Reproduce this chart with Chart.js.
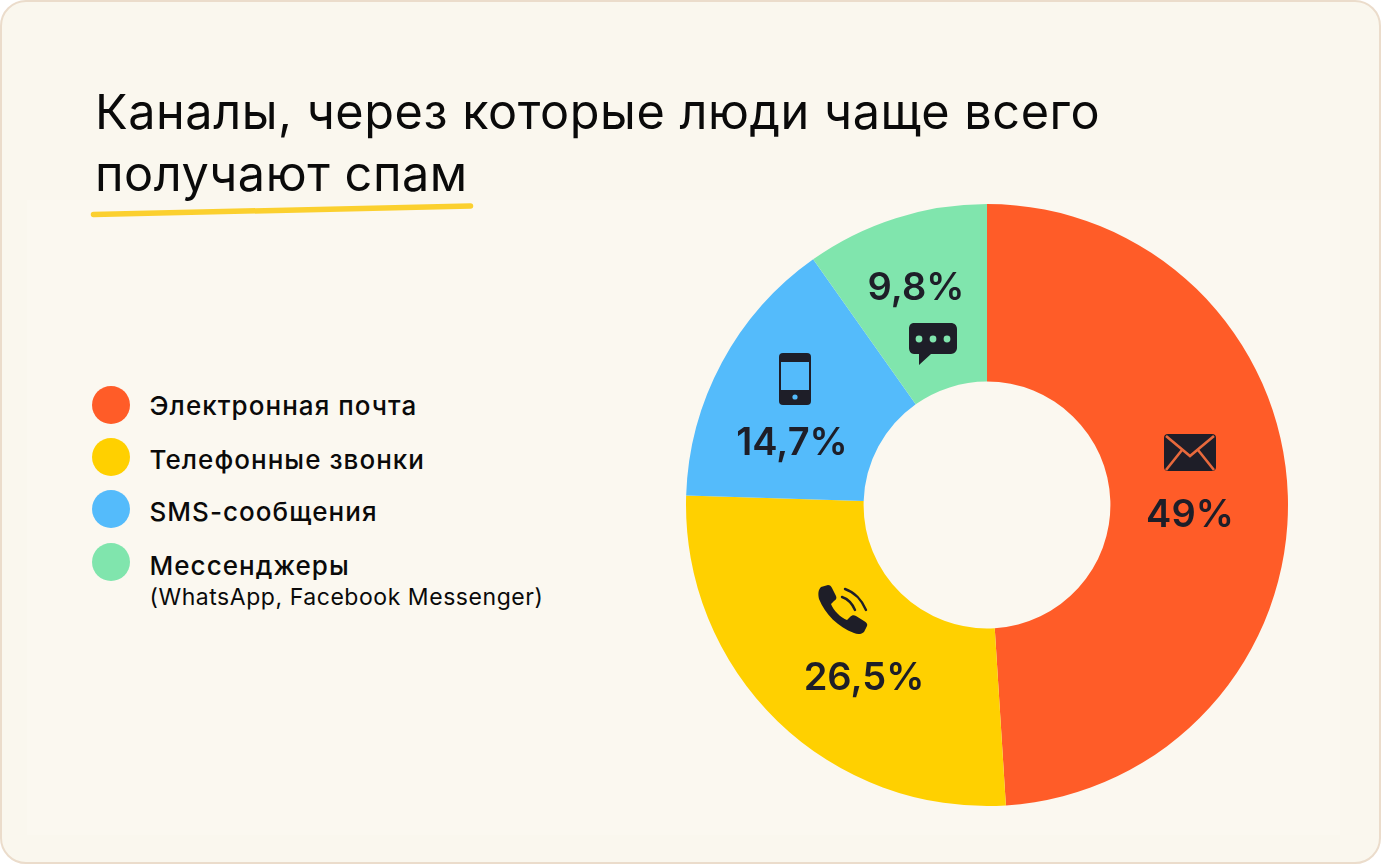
<!DOCTYPE html>
<html lang="ru">
<head>
    <meta charset="UTF-8">
    <title>Каналы спама</title>
    <script src="https://cdn.jsdelivr.net/npm/chart.js"></script>
    <style>
        html, body { margin: 0; padding: 0; background: #fff; }
        #page {
            position: relative; width: 1381px; height: 864px; overflow: hidden;
            font-family: Inter, sans-serif; color: #0a0a0a;
        }
        #card {
            position: absolute; left: 0; top: 0; width: 1377px; height: 860px;
            background: #faf7ee; border: 2px solid #ebdccb; border-radius: 26px;
        }
        #panel { position: absolute; left: 27px; top: 200px; width: 1313px; height: 635px; background: #fbf8f0; }
        #title {
            position: absolute; left: 95px; top: 81px; font-size: 48.6px; line-height: 62px;
            letter-spacing: 0.55px; font-weight: 400; white-space: nowrap;
        }
        #underline, .icon { position: absolute; }
        #chartBox { position: absolute; left: 680px; top: 198px; width: 614px; height: 614px; }
        .dot { position: absolute; left: 92px; width: 38px; height: 38px; border-radius: 50%; }
        .legendText {
            position: absolute; left: 149.5px; font-size: 26px; line-height: 30px; font-weight: 500;
            letter-spacing: 1.05px; white-space: nowrap; transform: translateY(-50%);
        }
        .legendNote { font-size: 23px; font-weight: 400; letter-spacing: 0.55px; }
        .value {
            position: absolute; font-size: 38px; line-height: 44px; font-weight: 600; color: #1e1e28;
            transform: translate(-50%, -50%); white-space: nowrap;
        }
    </style>
</head>
<body>
<div id="page">
    <div id="card"></div>
    <div id="panel"></div>
    <div id="title"></div>
    <svg id="underline" style="left:0;top:0" width="600" height="240">
        <line x1="93.5" y1="214.5" x2="470.5" y2="206" stroke="#fbd02f" stroke-width="5.5" stroke-linecap="round"/>
    </svg>
    <div id="chartBox"><canvas id="spamChart"></canvas></div>

    <!-- mail -->
    <svg class="icon" style="left:1163px;top:433px" width="54" height="39" viewBox="0 0 54 39">
        <rect x="1" y="1" width="52" height="37" rx="4" fill="#1e1e28"/>
        <path d="M3 3 L27 23 L51 3 M3 37 L19 17 M51 37 L35 17" fill="none" stroke="#e8693c" stroke-width="2.6"/>
    </svg>
    <!-- handset -->
    <svg class="icon" style="left:816px;top:583px" width="54" height="54" viewBox="0 0 54 54">
        <path d="M5 4 L12 2 C14 2 15 3 16 5 L20 13 C21 15 20 17 18 18 L15 21 C17 27 25 35 31 37 L34 34 C36 32 38 32 40 33 L48 38 C50 39 52 41 51 43 L48 49 C46 51 42 52 38 50 C22 44 9 31 3 16 C2 11 2 7 5 4 Z" fill="#1e1e28"/>
        <path d="M26 14 C32 16 36 20 39 27 M29 6 C38 9 46 17 50 27" fill="none" stroke="#1e1e28" stroke-width="2.4" stroke-linecap="round"/>
    </svg>
    <!-- smartphone -->
    <svg class="icon" style="left:778px;top:352px" width="34" height="54" viewBox="0 0 34 54">
        <rect x="1" y="1" width="32" height="52" rx="4" fill="#1e1e28"/>
        <rect x="3" y="10" width="28" height="28" fill="#54bbfb"/>
        <circle cx="17" cy="45" r="2.6" fill="#54bbfb"/>
    </svg>
    <!-- chat bubble -->
    <svg class="icon" style="left:908px;top:322px" width="50" height="46" viewBox="0 0 50 46">
        <path d="M6 1 H43 C46 1 49 3 49 7 V26 C49 29 46 32 43 32 H23 L11 43 V32 H6 C3 32 1 29 1 26 V7 C1 3 3 1 6 1 Z" fill="#1e1e28"/>
        <circle cx="11" cy="17" r="3.4" fill="#80e5ad"/>
        <circle cx="25" cy="17" r="3.4" fill="#80e5ad"/>
        <circle cx="39" cy="17" r="3.4" fill="#80e5ad"/>
    </svg>
</div>
<script>
    const titleLines = ['Каналы, через которые люди чаще всего', 'получают спам'];
    const categories = ['Электронная почта', 'Телефонные звонки', 'SMS-сообщения', 'Мессенджеры'];
    const categoryNote = '(WhatsApp, Facebook Messenger)';
    const shares = [49, 26.5, 14.7, 9.8];
    const shareLabels = ['49%', '26,5%', '14,7%', '9,8%'];
    const sliceColors = ['#ff5c28', '#ffd000', '#54bbfb', '#80e5ad'];

    const page = document.getElementById('page');
    document.getElementById('title').innerHTML = titleLines.join('<br>');

    // legend, drawn by hand because of the two-line last entry
    const dotTops = [386, 438, 490, 543];
    const textMids = [406, 460, 512, 566];
    categories.forEach(function(name, i) {
        const dot = document.createElement('div');
        dot.className = 'dot';
        dot.style.top = dotTops[i] + 'px';
        dot.style.background = sliceColors[i];
        page.appendChild(dot);

        const text = document.createElement('div');
        text.className = 'legendText';
        text.style.top = textMids[i] + 'px';
        text.textContent = name;
        page.appendChild(text);
    });
    const note = document.createElement('div');
    note.className = 'legendText legendNote';
    note.style.top = '597px';
    note.textContent = categoryNote;
    page.appendChild(note);

    // value labels sit by hand next to the icons, as in the original
    const labelSpots = [[1190, 513], [864, 676], [792, 441], [916, 286]];
    shareLabels.forEach(function(label, i) {
        const el = document.createElement('div');
        el.className = 'value';
        el.style.left = labelSpots[i][0] + 'px';
        el.style.top = labelSpots[i][1] + 'px';
        el.textContent = label;
        page.appendChild(el);
    });

    const ctx = document.getElementById('spamChart').getContext('2d');
    new Chart(ctx, {
        type: 'doughnut',
        data: {
            labels: categories,
            datasets: [{
                data: shares,
                backgroundColor: sliceColors,
                borderWidth: 0
            }]
        },
        options: {
            responsive: true,
            maintainAspectRatio: false,
            animation: false,
            cutout: '41%',
            layout: { padding: 6 },
            plugins: {
                legend: { display: false },
                tooltip: { enabled: false }
            }
        }
    });
</script>
</body>
</html>
